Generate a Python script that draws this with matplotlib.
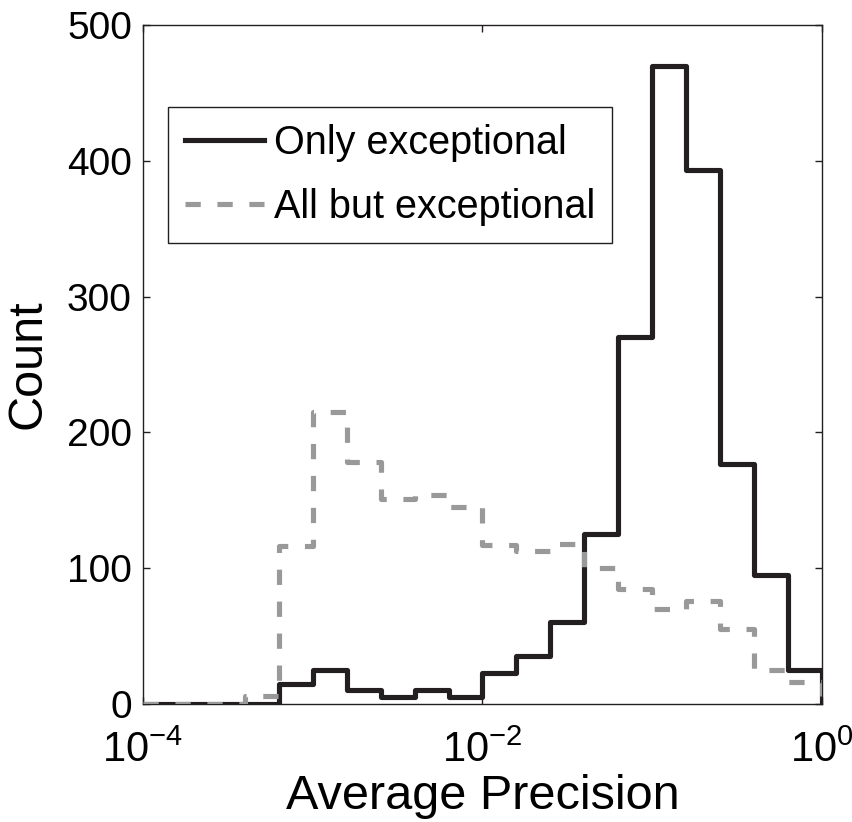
import numpy as np
import matplotlib
matplotlib.use("Agg")
import matplotlib.pyplot as plt

plt.rcParams['font.family'] = ['Liberation Sans', 'DejaVu Sans']
plt.rcParams['mathtext.fontset'] = 'custom'
plt.rcParams['mathtext.rm'] = 'Liberation Sans'
plt.rcParams['mathtext.it'] = 'Liberation Sans'
plt.rcParams['lines.scale_dashes'] = False

# log10 bin edges, 0.2 decade wide, from 1e-4 to 1
edge_exp = np.linspace(-4, 0, 21)
bin_edges = 10.0 ** edge_exp

only_exceptional = [0, 0, 0, 0, 15, 25, 10, 5, 10, 5,
                    23, 35, 60, 125, 270, 470, 393, 177, 95, 25]
all_but_exceptional = [0, 0, 0, 6, 116, 215, 178, 151, 154, 145,
                       117, 113, 118, 100, 85, 70, 76, 55, 25, 16]

fig = plt.figure(figsize=(8.53, 8.22), dpi=100)
ax = fig.add_axes([0.1676, 0.1436, 0.796, 0.826])

ax.stairs(only_exceptional, bin_edges, baseline=0, color='#231f20',
          linewidth=3.7, joinstyle='round', label='Only exceptional', zorder=2)
ax.stairs(all_but_exceptional, bin_edges, baseline=0, color='#999999',
          linewidth=3.7, linestyle=(0, (11, 12)), joinstyle='round',
          label='All but exceptional', zorder=3)

ax.set_xscale('log')
ax.set_xlim(1e-4, 1)
ax.set_ylim(0, 500)
ax.set_xticks([1e-4, 1e-2, 1])
ax.set_xticklabels([r'$10^{-4}$', r'$10^{-2}$', r'$10^{0}$'])
ax.xaxis.set_minor_locator(matplotlib.ticker.NullLocator())
ax.set_yticks([0, 100, 200, 300, 400, 500])

ax.tick_params(direction='in', length=5, width=1, labelsize=28,
               top=True, right=True, pad=8, color='#231f20')
ax.tick_params(axis='x', labelsize=30, pad=19)
for s in ax.spines.values():
    s.set_linewidth(1.0)
    s.set_color('#231f20')

ax.set_xlabel('Average Precision', fontsize=35, labelpad=2)
ax.set_ylabel('Count', fontsize=35, labelpad=12)

leg = ax.legend(loc='upper left', bbox_to_anchor=(0.0368, 0.879),
                borderaxespad=0, fontsize=28.5, fancybox=False,
                edgecolor='#231f20', framealpha=1, handlelength=2.0,
                handletextpad=0.25, labelspacing=0.66, borderpad=0.43)
leg.get_frame().set_linewidth(1.0)

fig.savefig('out.png', dpi=100)
